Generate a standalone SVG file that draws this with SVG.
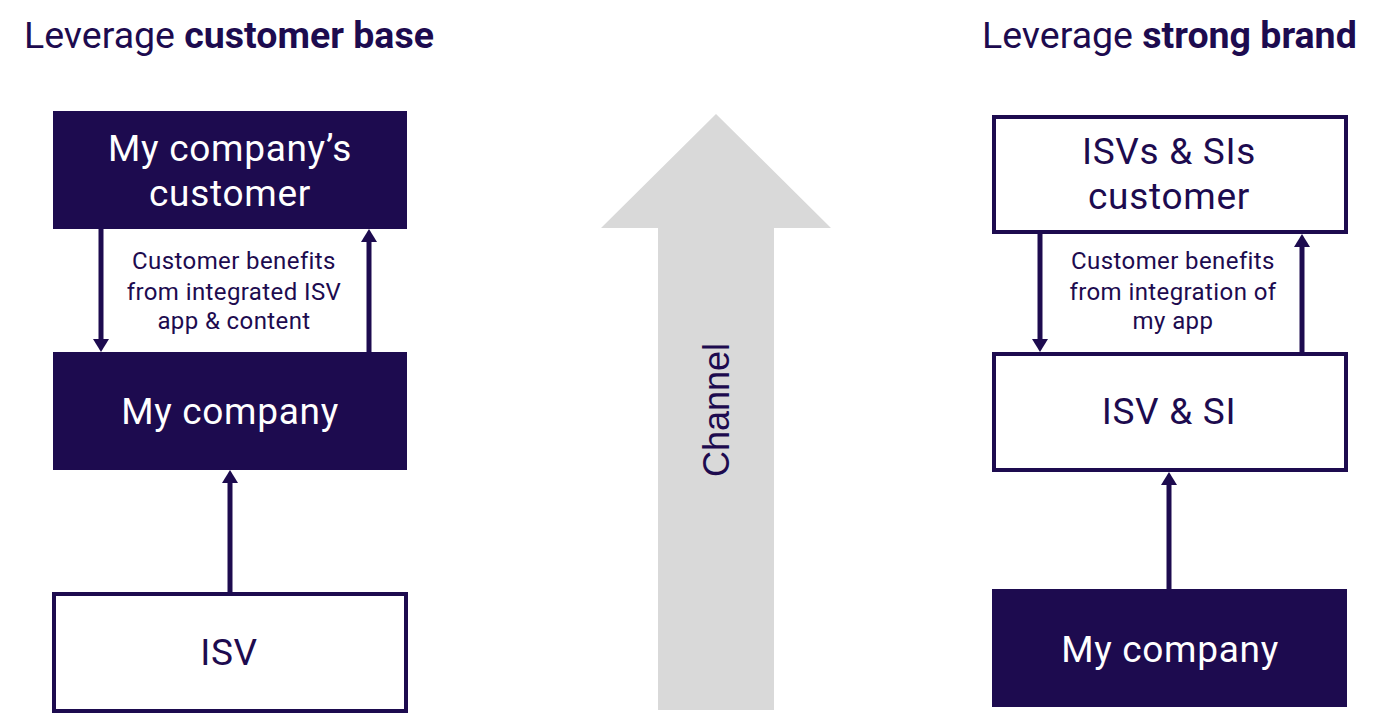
<svg xmlns="http://www.w3.org/2000/svg" width="1381" height="714" viewBox="0 0 1381 714">
<defs>
<style>
.t{font-family:Roboto,"Liberation Sans",sans-serif;fill:#1D0B4F}
.title{font-size:37.5px}
.b{font-weight:bold}
.box-dark{fill:#1D0B4F;stroke:none}
.box-light{fill:#FFFFFF;stroke:#1D0B4F;stroke-width:4}
.big{font-size:37px;text-anchor:middle;letter-spacing:0.7px}
.w{fill:#FFFFFF}
.lbl{font-size:24px;text-anchor:middle;letter-spacing:0.4px}
.conn{stroke:#1D0B4F;stroke-width:5;fill:none}
</style>
<marker id="ah" markerUnits="userSpaceOnUse" markerWidth="14" markerHeight="16" refX="0" refY="8" orient="auto" overflow="visible">
<path d="M0,0 L13,8 L0,16 z" fill="#1D0B4F"/>
</marker>
</defs>
<rect width="1381" height="714" fill="#FFFFFF"/>

<g id="title-left"><text class="t title" x="24" y="48">Leverage <tspan class="b">customer base</tspan></text></g>
<g id="title-right"><text class="t title" x="982" y="48">Leverage <tspan class="b">strong brand</tspan></text></g>

<g id="channel">
<polygon points="716,114 831,228 774,228 774,710 658,710 658,228 601,228" fill="#D9D9D9"/>
<text x="729" y="410" transform="rotate(-90 729 410)" text-anchor="middle" font-family="'Liberation Sans',Arial,sans-serif" font-size="36" fill="#1D0B4F">Channel</text>
</g>

<g id="left-customer">
<rect class="box-dark" x="53" y="111" width="354" height="118"/>
<text class="t big w" x="230" y="161">My company’s</text>
<text class="t big w" x="230" y="206">customer</text>
</g>
<g id="left-company">
<rect class="box-dark" x="53" y="352" width="354" height="118"/>
<text class="t big w" x="230" y="424">My company</text>
</g>
<g id="left-isv">
<rect class="box-light" x="54" y="594" width="352" height="117"/>
<text class="t big" x="229" y="665">ISV</text>
</g>
<g id="left-label">
<text class="t lbl" x="234" y="269">Customer benefits</text>
<text class="t lbl" x="234" y="300">from integrated ISV</text>
<text class="t lbl" x="234" y="329">app &amp; content</text>
</g>

<g id="right-customer">
<rect class="box-light" x="994" y="117" width="352" height="115"/>
<text class="t big" x="1169" y="164">ISVs &amp; SIs</text>
<text class="t big" x="1169" y="209">customer</text>
</g>
<g id="right-isvsi">
<rect class="box-light" x="994" y="354" width="352" height="116"/>
<text class="t big" x="1169" y="424">ISV &amp; SI</text>
</g>
<g id="right-company">
<rect class="box-dark" x="992" y="589" width="355" height="118"/>
<text class="t big w" x="1170" y="662">My company</text>
</g>
<g id="right-label">
<text class="t lbl" x="1173" y="269">Customer benefits</text>
<text class="t lbl" x="1173" y="300">from integration of</text>
<text class="t lbl" x="1173" y="329">my app</text>
</g>

<g id="connectors">
<line class="conn" x1="101" y1="229" x2="101" y2="339" marker-end="url(#ah)"/>
<line class="conn" x1="369" y1="352" x2="369" y2="242" marker-end="url(#ah)"/>
<line class="conn" x1="230" y1="592" x2="230" y2="483" marker-end="url(#ah)"/>
<line class="conn" x1="1040" y1="234" x2="1040" y2="339" marker-end="url(#ah)"/>
<line class="conn" x1="1302" y1="352" x2="1302" y2="247" marker-end="url(#ah)"/>
<line class="conn" x1="1169" y1="589" x2="1169" y2="485" marker-end="url(#ah)"/>
</g>
</svg>
